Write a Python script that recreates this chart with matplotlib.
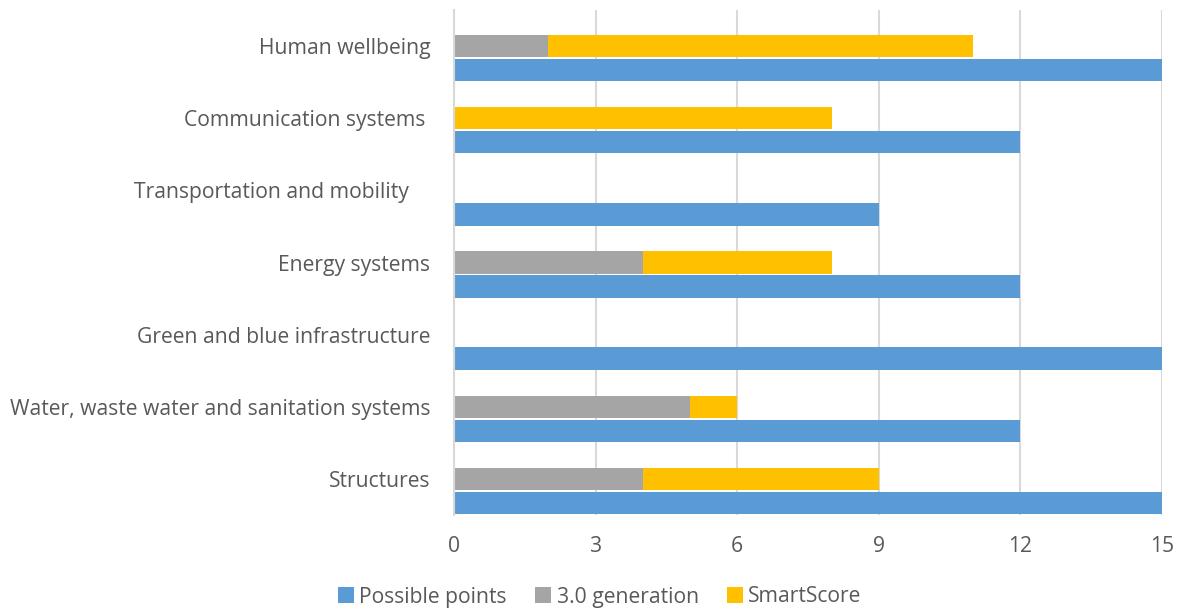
import matplotlib
matplotlib.use("Agg")
import matplotlib.pyplot as plt
from matplotlib.patches import Patch
import numpy as np

plt.rcParams['font.family'] = ['Open Sans', 'DejaVu Sans']

categories = [
    "Human wellbeing",
    "Communication systems ",
    "Transportation and mobility    ",
    "Energy systems",
    "Green and blue infrastructure",
    "Water, waste water and sanitation systems",
    "Structures",
]
possible_points = [15, 12, 9, 12, 15, 12, 15]
generation_30 = [2, 0, 0, 4, 0, 5, 4]
smartscore = [9, 8, 0, 4, 0, 1, 5]
x_ticks = [0, 3, 6, 9, 12, 15]

C_BLUE = "#5B9BD5"
C_GRAY = "#A5A5A5"
C_GOLD = "#FFC000"
C_GRID = "#D9D9D9"
C_TEXT = "#595959"
FS = 15.2

fig = plt.figure(figsize=(11.81, 6.10), dpi=100)
ax = fig.add_axes([454 / 1181, 1 - 515 / 610, (1162 - 454) / 1181, (515 - 10) / 610])

idx = np.arange(len(categories))
off = 0.166
h = 0.31
y_stack = idx - off
y_blue = idx + off

ax.barh(y_blue, possible_points, height=h, color=C_BLUE, zorder=3)
ax.barh(y_stack, generation_30, height=h, color=C_GRAY, zorder=3)
ax.barh(y_stack, smartscore, left=generation_30, height=h, color=C_GOLD, zorder=3)

ax.set_ylim(6.332, -0.665)
ax.set_xlim(0, 15)
ax.set_xticks(x_ticks)
ax.set_xticklabels([str(t) for t in x_ticks])
ax.set_yticks(y_stack)
ax.set_yticklabels(categories)

ax.grid(axis="x", color=C_GRID, linewidth=1.5, zorder=0)
for s in ["top", "right", "bottom"]:
    ax.spines[s].set_visible(False)
ax.spines["left"].set_color(C_GRID)
ax.spines["left"].set_linewidth(1.5)
ax.spines["left"].set_zorder(4)

ax.tick_params(axis="both", length=0, colors=C_TEXT, labelsize=FS)
ax.tick_params(axis="y", pad=17)
ax.tick_params(axis="x", pad=15)

handles = [
    Patch(facecolor=C_BLUE, label="Possible points"),
    Patch(facecolor=C_GRAY, label="3.0 generation"),
    Patch(facecolor=C_GOLD, label="SmartScore"),
]
leg = fig.legend(handles=handles, loc="center", bbox_to_anchor=(600 / 1181, 1 - 597 / 610),
                 ncol=3, frameon=False, fontsize=FS, handlelength=0.75, handleheight=0.75,
                 handletextpad=0.25, columnspacing=1.35)
for t in leg.get_texts():
    t.set_color(C_TEXT)

fig.savefig("out.png", dpi=100)
